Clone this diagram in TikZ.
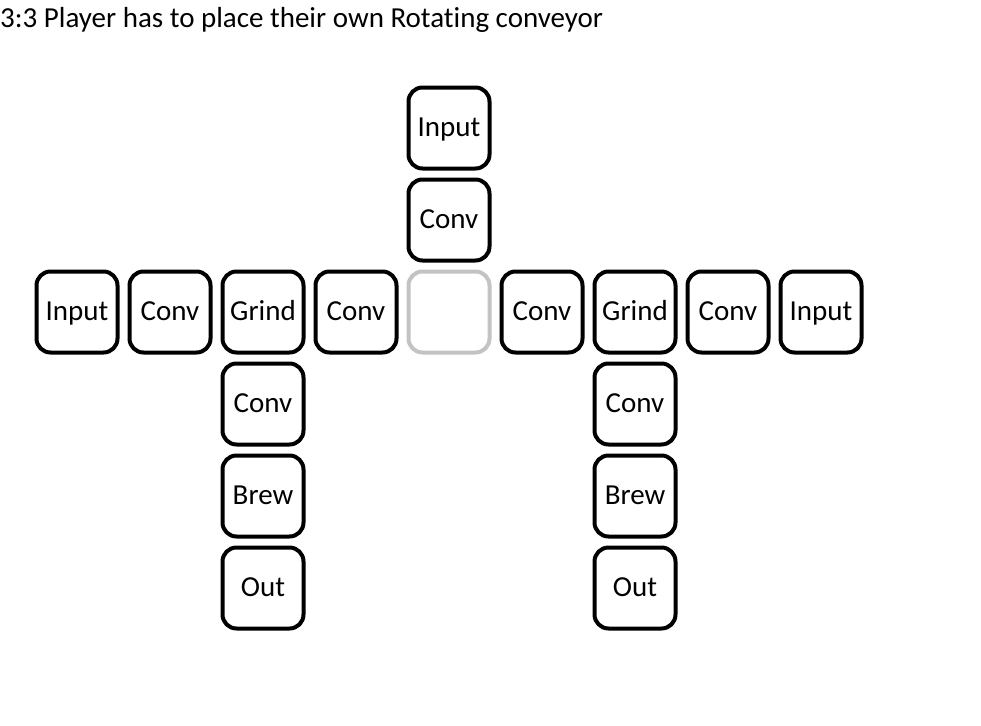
\documentclass[tikz,border=0pt]{standalone}
\usepackage{fontspec}
\setmainfont{Carlito}[Ligatures=NoCommon]
\usetikzlibrary{positioning}
\definecolor{emptygrey}{HTML}{C3C3C3}

\begin{document}
\begin{tikzpicture}[
  x=1pt, y=-1pt,
  node distance=7pt and 8pt,
  every node/.style={font=\fontsize{29pt}{34pt}\selectfont},
  tile/.style={draw, line width=4pt, rounded corners=14pt,
    minimum width=81pt, minimum height=81pt, inner sep=0pt,
    text height=20pt, text depth=4pt}
]
  \useasboundingbox (0,0) rectangle (981,725);

  % Title
  \node (title) [anchor=base west, inner sep=0pt] at (0,28)
    {3:3 Player has to place their own Rotating conveyor};

  % Centre slot (empty)
  \node (C) [tile, draw=emptygrey] at (449,312) {};

  % Column above the centre
  \node (Cu) [tile, above=of C] {Conv};
  \node (Iu) [tile, above=of Cu] {Input};

  % Left arm
  \node (Cl1) [tile, left=of C] {Conv};
  \node (Gl) [tile, left=of Cl1] {Grind};
  \node (Cl2) [tile, left=of Gl] {Conv};
  \node (Il) [tile, left=of Cl2] {Input};

  % Right arm
  \node (Cr1) [tile, right=of C] {Conv};
  \node (Gr) [tile, right=of Cr1] {Grind};
  \node (Cr2) [tile, right=of Gr] {Conv};
  \node (Ir) [tile, right=of Cr2] {Input};

  % Below left grinder
  \node (Cl3) [tile, below=of Gl] {Conv};
  \node (Bl) [tile, below=of Cl3] {Brew};
  \node (Ol) [tile, below=of Bl] {Out};

  % Below right grinder
  \node (Cr3) [tile, below=of Gr] {Conv};
  \node (Br) [tile, below=of Cr3] {Brew};
  \node (Or) [tile, below=of Br] {Out};
\end{tikzpicture}
\end{document}
